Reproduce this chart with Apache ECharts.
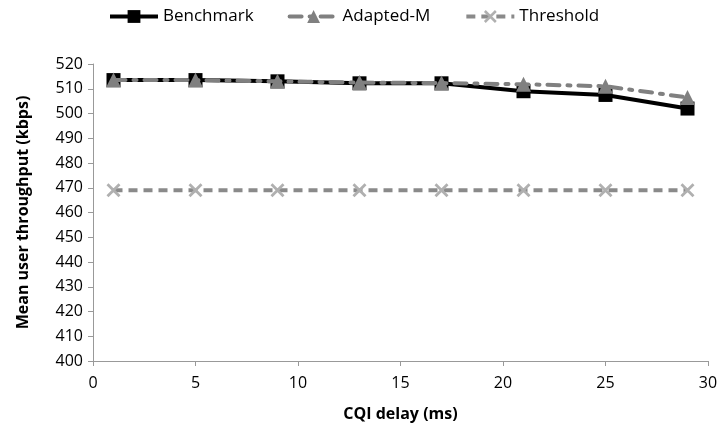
<!DOCTYPE html>
<html>
<head>
<meta charset="utf-8">
<script src="https://cdn.jsdelivr.net/npm/echarts@6/dist/echarts.min.js"></script>
<style>
  html, body { margin: 0; padding: 0; background: #fff; }
  #main { width: 721px; height: 433px; }
</style>
</head>
<body>
<div id="main"></div>
<script>
var delays = [1, 5, 9, 13, 17, 21, 25, 29];
var benchmark = [513.5, 513.5, 513, 512.2, 512.2, 509, 507.5, 502];
var adaptedM = [513.5, 513.5, 513, 512.5, 512.3, 511.8, 511, 506.5];
var threshold = [469, 469, 469, 469, 469, 469, 469, 469];

function pairs(vals) {
  return delays.map(function (d, i) { return [d, vals[i]]; });
}

var crossPath = "path://M0,1.4L1.4,0L10,8.6L8.6,10ZM8.6,0L10,1.4L1.4,10L0,8.6Z";
var fontName = "Open Sans";

var chart = echarts.init(document.getElementById("main"));
var option = {
  animation: false,
  textStyle: { fontFamily: fontName },
  legend: {
    top: 3,
    left: 103,
    itemWidth: 48,
    itemHeight: 16,
    itemGap: 34,
    textStyle: { fontSize: 17, color: "#000", fontFamily: fontName },
    lineStyle: { width: 4 },
    data: ["Benchmark", "Adapted-M", "Threshold"]
  },
  grid: { left: 93, right: 13, top: 64, bottom: 72 },
  xAxis: {
    type: "value",
    min: 0,
    max: 30,
    interval: 5,
    name: "CQI delay (ms)",
    nameLocation: "middle",
    nameGap: 45,
    nameTextStyle: { fontSize: 16, fontWeight: "bold", color: "#000" },
    axisLine: { lineStyle: { color: "#999", width: 1 } },
    axisTick: { inside: false, length: 5, lineStyle: { color: "#999" } },
    axisLabel: { fontSize: 16, color: "#000", margin: 14 },
    splitLine: { show: false }
  },
  yAxis: {
    type: "value",
    min: 400,
    max: 520,
    interval: 10,
    name: "Mean user throughput (kbps)",
    nameLocation: "middle",
    nameGap: 62,
    nameTextStyle: { fontSize: 16, fontWeight: "bold", color: "#000" },
    axisLine: { show: true, lineStyle: { color: "#999", width: 1 } },
    axisTick: { show: true, length: 5, lineStyle: { color: "#999" } },
    axisLabel: { fontSize: 16, color: "#000", margin: 10 },
    splitLine: { show: false }
  },
  series: [
    {
      name: "Benchmark",
      type: "line",
      data: pairs(benchmark),
      symbol: "rect",
      symbolSize: 14,
      z: 3,
      lineStyle: { color: "#000", width: 4 },
      itemStyle: { color: "#000" }
    },
    {
      name: "Adapted-M",
      type: "line",
      data: pairs(adaptedM),
      symbol: "triangle",
      symbolSize: 15,
      z: 4,
      lineStyle: { color: "#808080", width: 4, type: [12, 8, 3, 8], cap: "round" },
      itemStyle: { color: "#808080" }
    },
    {
      name: "Threshold",
      type: "line",
      data: pairs(threshold),
      symbol: crossPath,
      symbolSize: 14,
      z: 2,
      lineStyle: { color: "#8a8a8a", width: 4, type: [9, 6] },
      itemStyle: { color: "#b0b0b0" }
    }
  ]
};
chart.setOption(option);
window.onresize = chart.resize;
</script>
</body>
</html>
